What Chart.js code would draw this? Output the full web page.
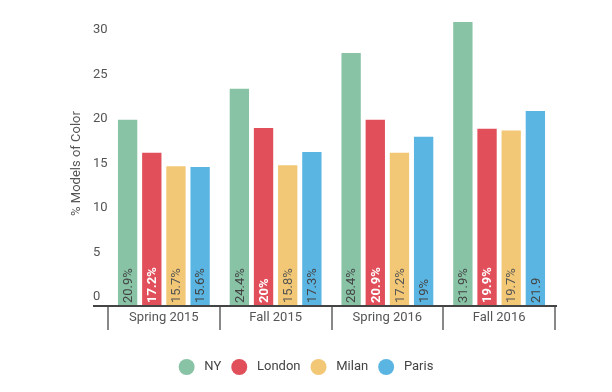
<!DOCTYPE html>
<html>
<head>
<meta charset="utf-8">
<script src="https://cdn.jsdelivr.net/npm/chart.js@4.4.1/dist/chart.umd.min.js"></script>
<style>
  html, body { margin: 0; padding: 0; background: #fff; }
  #wrap { width: 612px; height: 392px; position: relative; }
</style>
</head>
<body>
<div id="wrap"><canvas id="chart"></canvas></div>
<script>
// data
const seasons = ['Spring 2015', 'Fall 2015', 'Spring 2016', 'Fall 2016'];
const cities = ['NY', 'London', 'Milan', 'Paris'];
const nyValues = [20.9, 24.4, 28.4, 31.9];
const londonValues = [17.2, 20, 20.9, 19.9];
const milanValues = [15.7, 15.8, 17.2, 19.7];
const parisValues = [15.6, 17.3, 19, 21.9];
const nyLabels = ['20.9%', '24.4%', '28.4%', '31.9%'];
const londonLabels = ['17.2%', '20%', '20.9%', '19.9%'];
const milanLabels = ['15.7%', '15.8%', '17.2%', '19.7%'];
const parisLabels = ['15.6%', '17.3%', '19%', '21.9'];
const yTicks = [0, 5, 10, 15, 20, 25, 30];
const yTitle = '% Models of Color';

const FONT = 'Roboto, "Noto Sans", sans-serif';
const TEXT = '#555';

function series(label, data, texts, color, textColor, bold) {
  return {
    label, data, texts,
    backgroundColor: color,
    borderWidth: 0,
    textColor: textColor,
    textWeight: bold ? 'bold' : 'normal',
    barPercentage: 0.8,
    categoryPercentage: 0.865
  };
}

// rotated value text sitting at the foot of each bar
const barText = {
  id: 'barText',
  afterDatasetsDraw(chart) {
    const ctx = chart.ctx;
    chart.data.datasets.forEach((ds, di) => {
      chart.getDatasetMeta(di).data.forEach((bar, i) => {
        ctx.save();
        ctx.translate(bar.x, bar.base - 3);
        ctx.rotate(-Math.PI / 2);
        ctx.font = ds.textWeight + ' 13px ' + FONT;
        ctx.fillStyle = ds.textColor;
        ctx.textAlign = 'left';
        ctx.textBaseline = 'middle';
        ctx.fillText(ds.texts[i], 0, 1);
        ctx.restore();
      });
    });
  }
};

// y title, axis base line, and legend centred on the whole canvas
const decor = {
  id: 'decor',
  afterLayout(chart) {
    chart.legend.left = 0;
    chart.legend.right = chart.width;
  },
  afterDraw(chart) {
    const ctx = chart.ctx;
    const area = chart.chartArea;
    const x = chart.scales.x, y = chart.scales.y;
    ctx.save();
    ctx.strokeStyle = '#444';
    ctx.lineWidth = 2;
    ctx.beginPath();
    ctx.moveTo(y.left, x.top);
    ctx.lineTo(x.right + 2, x.top);
    ctx.stroke();

    ctx.translate(area.left - 31, (area.top + area.bottom) / 2);
    ctx.rotate(-Math.PI / 2);
    ctx.font = '13px ' + FONT;
    ctx.fillStyle = TEXT;
    ctx.textAlign = 'center';
    ctx.textBaseline = 'middle';
    ctx.fillText(yTitle, 0, 0);
    ctx.restore();
  }
};

new Chart(document.getElementById('chart'), {
  type: 'bar',
  data: {
    labels: seasons,
    datasets: [
      series(cities[0], nyValues, nyLabels, '#88c3a6', '#444', false),
      series(cities[1], londonValues, londonLabels, '#e04f5a', '#fff', true),
      series(cities[2], milanValues, milanLabels, '#f2c876', '#555', false),
      series(cities[3], parisValues, parisLabels, '#5ab5e2', '#444', false)
    ]
  },
  options: {
    responsive: true,
    maintainAspectRatio: false,
    animation: false,
    layout: { padding: { top: 21, left: 93, right: 57, bottom: 7 } },
    scales: {
      x: {
        offset: true,
        border: { display: false },
        grid: {
          offset: true,
          drawOnChartArea: false,
          drawTicks: true,
          tickLength: 24,
          lineWidth: 2,
          color: ctx => ctx.index === seasons.length ? '#bbb' : '#888'
        },
        ticks: { padding: -20, color: TEXT, font: { family: FONT, size: 13 } },
        afterFit: s => { s.height = 43; }
      },
      y: {
        min: 0,
        max: 32,
        border: { display: false },
        grid: { display: false },
        afterBuildTicks: s => { s.ticks = yTicks.map(v => ({ value: v })); },
        afterFit: s => { s.width = 15; },
        ticks: {
          crossAlign: 'far',
          padding: 0,
          labelOffset: -9,
          color: TEXT,
          font: { family: FONT, size: 13 }
        }
      }
    },
    plugins: {
      tooltip: { enabled: false },
      legend: {
        position: 'bottom',
        labels: {
          boxWidth: 16,
          boxHeight: 16,
          useBorderRadius: true,
          borderRadius: 8,
          padding: 10,
          color: '#444',
          font: { family: FONT, size: 13 },
          // a leading space widens the gap between dot and name as in the reference
          generateLabels: chart => Chart.defaults.plugins.legend.labels.generateLabels(chart)
            .map(item => Object.assign(item, { text: ' ' + item.text }))
        }
      }
    }
  },
  plugins: [barText, decor]
});
</script>
</body>
</html>
